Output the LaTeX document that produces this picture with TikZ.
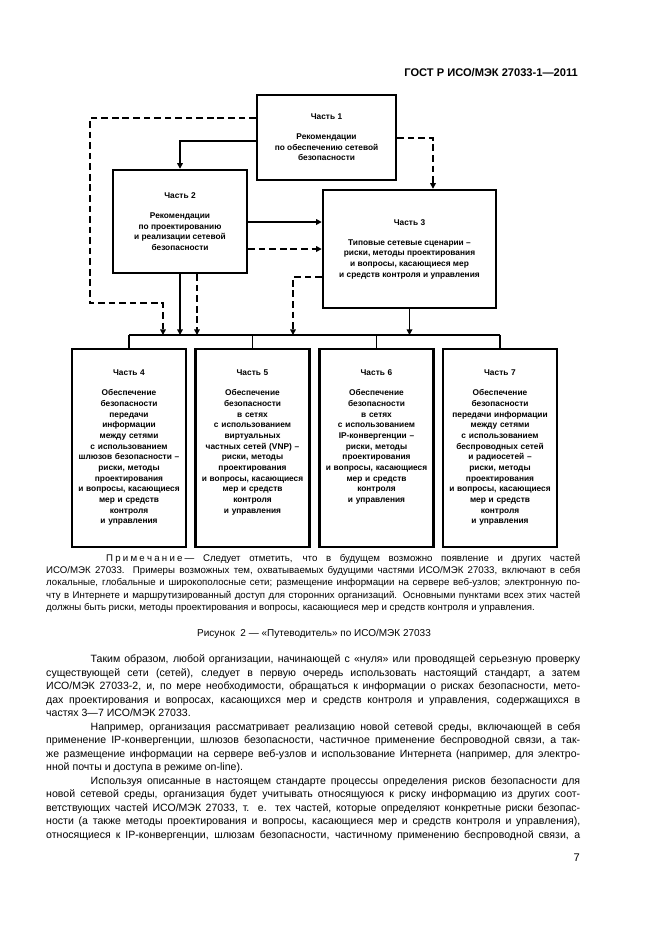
\documentclass[tikz,border=0pt]{standalone}
\usepackage{fontspec}
\setmainfont{Liberation Sans}
\usetikzlibrary{arrows.meta}

\newlength\colw
\setlength\colw{480.6pt}

\tikzset{
  part/.style={draw, line width=2.2pt, fill=white, align=center, inner sep=1pt,
    font=\fontsize{7.5}{9.6}\selectfont\bfseries},
  lowpart/.style={part, minimum width=102.6pt, text width=98pt, inner ysep=0pt,
    text height=24pt, text depth=154.2pt},
  sline/.style={line width=1.4pt, -{Triangle[length=5pt,width=5pt]}},
  dline/.style={sline, dash pattern=on 6pt off 3.5pt},
  bline/.style={line width=1.3pt},
  txt/.style={inner sep=0pt, text width=\colw, align=justify}
}
\newcommand\fullline[1]{\hbox to\colw{\spaceskip=0pt\xspaceskip=0pt #1}\par}
\newcommand\lastline[1]{\hbox{\spaceskip=0pt\xspaceskip=0pt #1}\par}

\begin{document}
\begin{tikzpicture}[x=0.9pt, y=-0.9pt]
\fill[white] (0,0) rectangle (661,936);
\useasboundingbox (0,0) rectangle (661,936);

% колонтитул
\node[anchor=base east, inner sep=0pt, font=\fontsize{10}{12}\selectfont\bfseries] (head) at (578,76)
  {ГОСТ Р ИСО/МЭК 27033-1—2011};

% части 1-3
\node[part, minimum width=125.1pt, minimum height=76.5pt] (p1) at (326.5,137.5)
  {Часть 1\\[8.4pt]Рекомендации\\по обеспечению сетевой\\безопасности};
\node[part, minimum width=120.6pt, minimum height=92.7pt] (p2) at (180,221.5)
  {Часть 2\\[8.4pt]Рекомендации\\по проектированию\\и реализации сетевой\\безопасности};
\node[part, minimum width=155.7pt, minimum height=106.2pt] (p3) at (409.5,249)
  {Часть 3\\[8.4pt]Типовые сетевые сценарии –\\риски, методы проектирования\\и вопросы, касающиеся мер\\и средств контроля и управления};

% части 4-7
\node[lowpart] (p4) at (129,448)
  {Часть 4\\[8.4pt]Обеспечение\\безопасности\\передачи\\информации\\между сетями\\с использованием\\шлюзов безопасности –\\риски, методы\\проектирования\\и вопросы, касающиеся\\мер и средств\\контроля\\и управления};
\node[lowpart] (p5) at (252.5,448)
  {Часть 5\\[8.4pt]Обеспечение\\безопасности\\в сетях\\с использованием\\виртуальных\\частных сетей (VNP) –\\риски, методы\\проектирования\\и вопросы, касающиеся\\мер и средств\\контроля\\и управления};
\node[lowpart] (p6) at (376.5,448)
  {Часть 6\\[8.4pt]Обеспечение\\безопасности\\в сетях\\с использованием\\IP-конвергенции –\\риски, методы\\проектирования\\и вопросы, касающиеся\\мер и средств\\контроля\\и управления};
\node[lowpart] (p7) at (500,448)
  {Часть 7\\[8.4pt]Обеспечение\\безопасности\\передачи информации\\между сетями\\с использованием\\беспроводных сетей\\и радиосетей –\\риски, методы\\проектирования\\и вопросы, касающиеся\\мер и средств\\контроля\\и управления};

% шина над частями 4-7
\coordinate (bus) at (0,335);
\draw[bline] (p4.north |- bus) -- (p7.north |- bus);
\foreach \n in {4,...,7}
  \draw[bline] (p\n.north |- bus) -- (p\n.north);

% связи
\draw[dline] (p1.west |- 0,118) -| (90,303) -| (163,0 |- bus);
\draw[sline] (p1.west |- 0,141) -| (p2.north);
\draw[dline] (p1.east |- 0,138) -| (433,0 |- p3.north);
\draw[sline] (p2.east |- 0,222) -- (p3.west |- 0,222);
\draw[dline] (p2.east |- 0,249) -- (p3.west |- 0,249);
\draw[sline] (p2.south) -- (p2.south |- bus);
\draw[dline] (197,0 |- p2.south) -- (197,0 |- bus);
\draw[dline] (p3.west |- 0,277) -| (293,0 |- bus);
\draw[sline] (p3.south) -- (p3.south |- bus);

% примечание
\node[txt, anchor=base west, font=\fontsize{8.7}{11}\selectfont] (note) at (46,561.5) {%
\fullline{\hskip54pt П\kern2pt р\kern2pt и\kern2pt м\kern2pt е\kern2pt ч\kern2pt а\kern2pt н\kern2pt и\kern2pt е\kern2pt — Следует отметить, что в будущем возможно появление и других частей}
\fullline{ИСО/МЭК 27033. Примеры возможных тем, охватываемых будущими частями ИСО/МЭК 27033, включают в себя}
\fullline{локальные, глобальные и широкополосные сети; размещение информации на сервере веб-узлов; электронную по-}
\fullline{чту в Интернете и маршрутизированный доступ для сторонних организаций. Основными пунктами всех этих частей}
\lastline{должны быть риски, методы проектирования и вопросы, касающиеся мер и средств контроля и управления.}};

% подпись рисунка
\node[anchor=base, inner sep=0pt, font=\fontsize{9}{11}\selectfont] (caption) at (314,636.5)
  {Рисунок\ \ 2 — «Путеводитель» по ИСО/МЭК 27033};

% основной текст
\node[txt, anchor=base west, font=\fontsize{9.5}{12.15}\selectfont] (body) at (46,662.5) {%
\fullline{\hskip40pt Таким образом, любой организации, начинающей с «нуля» или проводящей серьезную проверку}
\fullline{существующей сети (сетей), следует в первую очередь использовать настоящий стандарт, а затем}
\fullline{ИСО/МЭК 27033-2, и, по мере необходимости, обращаться к информации о рисках безопасности, мето-}
\fullline{дах проектирования и вопросах, касающихся мер и средств контроля и управления, содержащихся в}
\lastline{частях 3—7 ИСО/МЭК 27033.}
\fullline{\hskip40pt Например, организация рассматривает реализацию новой сетевой среды, включающей в себя}
\fullline{применение IP-конвергенции, шлюзов безопасности, частичное применение беспроводной связи, а так-}
\fullline{же размещение информации на сервере веб-узлов и использование Интернета (например, для электро-}
\lastline{нной почты и доступа в режиме on-line).}
\fullline{\hskip40pt Используя описанные в настоящем стандарте процессы определения рисков безопасности для}
\fullline{новой сетевой среды, организация будет учитывать относящуюся к риску информацию из других соот-}
\fullline{ветствующих частей ИСО/МЭК 27033, т. е. тех частей, которые определяют конкретные риски безопас-}
\fullline{ности (а также методы проектирования и вопросы, касающиеся мер и средств контроля и управления),}
\fullline{относящиеся к IP-конвергенции, шлюзам безопасности, частичному применению беспроводной связи, а}};

% номер страницы
\node[anchor=base east, inner sep=0pt, font=\fontsize{10}{12}\selectfont] (pagenum) at (580,861) {7};
\end{tikzpicture}
\end{document}
